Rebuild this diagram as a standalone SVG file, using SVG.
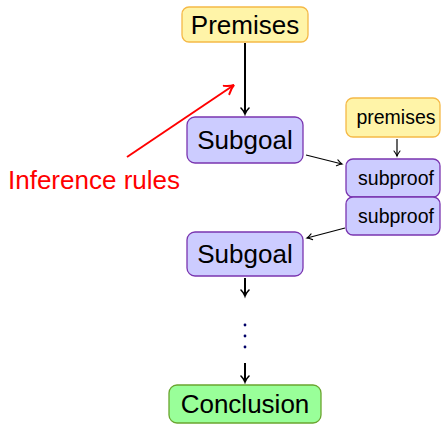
<svg xmlns="http://www.w3.org/2000/svg" width="444" height="424" viewBox="0 0 444 424">
<defs>
<marker id="ah" markerWidth="10" markerHeight="10" refX="7" refY="5" orient="auto" markerUnits="userSpaceOnUse">
<path d="M1,1 Q4,4 7,5 Q4,6 1,9" fill="none" stroke="#000" stroke-width="1.6" stroke-linecap="round"/>
</marker>
<marker id="ahs" markerWidth="10" markerHeight="10" refX="7" refY="5" orient="auto" markerUnits="userSpaceOnUse">
<path d="M2,2 Q5,4.3 7,5 Q5,5.7 2,8" fill="none" stroke="#000" stroke-width="1.1" stroke-linecap="round"/>
</marker>
<marker id="ahr" markerWidth="14" markerHeight="14" refX="10" refY="7" orient="auto" markerUnits="userSpaceOnUse">
<path d="M1,2 Q6,6 10,7 Q6,8 1,12" fill="none" stroke="#ff0000" stroke-width="2" stroke-linecap="round"/>
</marker>
</defs>
<style>
text{font-family:"Liberation Sans",Arial,sans-serif;text-anchor:middle;fill:#000}
.big{font-size:26px}
.small{font-size:19.5px}
.yel{fill:#fff4a8;stroke:#f5b947;stroke-width:1.3}
.blu{fill:#ccccff;stroke:#7a35b0;stroke-width:1.3}
.grn{fill:#99ff99;stroke:#6aa52f;stroke-width:1.3}
.c{fill:none;stroke:#000}
</style>
<g id="connectors">
<line class="c" x1="245" y1="43" x2="245" y2="114" stroke-width="2" marker-end="url(#ah)"/>
<line class="c" x1="306" y1="155" x2="342" y2="164" stroke-width="1.2" marker-end="url(#ahs)"/>
<line class="c" x1="397" y1="139" x2="397" y2="156" stroke-width="1.2" marker-end="url(#ahs)"/>
<line class="c" x1="345" y1="228" x2="307" y2="238" stroke-width="1.2" marker-end="url(#ahs)"/>
<line class="c" x1="245" y1="278" x2="245" y2="296" stroke-width="2" marker-end="url(#ah)"/>
<line class="c" x1="245" y1="363" x2="245" y2="382" stroke-width="2" marker-end="url(#ah)"/>
<line x1="127" y1="157" x2="234" y2="85" stroke="#ff0000" stroke-width="2" marker-end="url(#ahr)"/>
</g>
<g id="premises-top">
<rect class="yel" x="182" y="7" width="126" height="35" rx="7"/>
<text class="big" x="245" y="34">Premises</text>
</g>
<g id="subgoal1">
<rect class="blu" x="187" y="117" width="116" height="46" rx="8"/>
<text class="big" x="245" y="149">Subgoal</text>
</g>
<g id="premises-small">
<rect class="yel" x="346" y="98" width="94" height="39" rx="7"/>
<text class="small" x="396" y="124">premises</text>
</g>
<g id="subproof1">
<rect class="blu" x="346" y="159" width="94" height="38" rx="7"/>
<text class="small" x="396" y="185">subproof</text>
</g>
<g id="subproof2">
<rect class="blu" x="346" y="197" width="94" height="38" rx="7"/>
<text class="small" x="396" y="223">subproof</text>
</g>
<g id="subgoal2">
<rect class="blu" x="187" y="232" width="116" height="44" rx="8"/>
<text class="big" x="245" y="263">Subgoal</text>
</g>
<g id="vdots">
<circle cx="245" cy="325" r="1.4" fill="#000066"/>
<circle cx="245" cy="336" r="1.4" fill="#000066"/>
<circle cx="245" cy="347" r="1.4" fill="#000066"/>
</g>
<g id="conclusion">
<rect class="grn" x="169" y="385" width="152" height="38" rx="8"/>
<text class="big" x="245" y="413">Conclusion</text>
</g>
<g id="label-inference">
<text class="big" x="94" y="189" style="fill:#ff0000">Inference rules</text>
</g>
</svg>
